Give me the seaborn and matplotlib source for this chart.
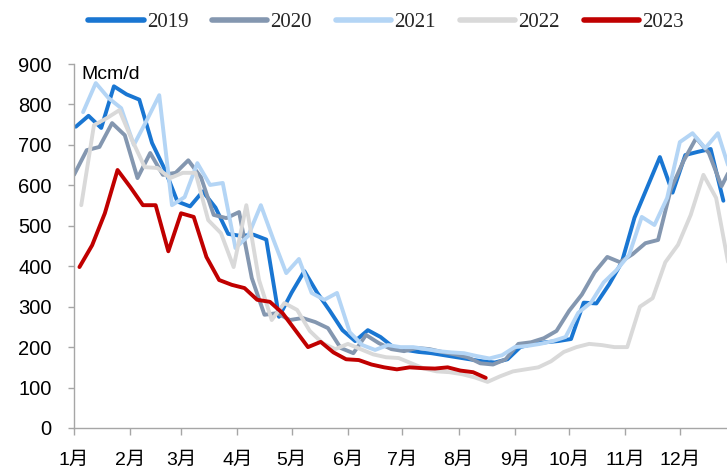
import matplotlib
matplotlib.use("Agg")
import matplotlib.pyplot as plt
from matplotlib.lines import Line2D
import numpy as np
import pandas as pd
import seaborn as sns

# Weekly consumption, Mcm/d
years = ["2019", "2020", "2021", "2022", "2023"]
first_week = ["2019-01-02", "2020-01-01", "2021-01-06", "2022-01-05", "2023-01-04"]

v2019 = [745, 772, 742, 845, 825, 812, 705, 640, 560, 548, 585, 545, 480, 475,
         478, 466, 275, 335, 388, 335, 290, 242, 215, 242, 225, 200, 193, 188,
         185, 180, 175, 170, 165, 162, 170, 200, 208, 212, 215, 220, 310, 308,
         355, 410, 520, 595, 670, 582, 675, 683, 690, 562]
v2020 = [626, 687, 695, 754, 724, 618, 680, 626, 631, 662, 620, 527, 519, 534,
         371, 280, 284, 267, 272, 262, 247, 198, 185, 230, 210, 195, 190, 198,
         195, 188, 182, 175, 160, 157, 170, 208, 212, 222, 240, 290, 330, 385,
         423, 410, 430, 457, 465, 590, 660, 717, 680, 598, 660]
v2021 = [781, 853, 816, 791, 700, 760, 823, 551, 571, 655, 601, 606, 445, 475,
         551, 465, 383, 418, 334, 317, 334, 237, 205, 193, 205, 200, 200, 195,
         190, 187, 185, 178, 172, 180, 200, 203, 208, 215, 225, 285, 310, 360,
         390, 428, 522, 502, 569, 707, 729, 692, 729, 630]
v2022 = [551, 749, 766, 786, 712, 645, 643, 618, 631, 631, 514, 482, 398, 551,
         366, 267, 309, 292, 240, 210, 195, 208, 195, 182, 175, 173, 160, 147,
         140, 138, 133, 125, 114, 128, 140, 145, 150, 165, 188, 200, 208, 205,
         200, 200, 300, 321, 410, 453, 527, 626, 569, 400]
v2023 = [398, 452, 531, 638, 596, 551, 551, 437, 531, 522, 423, 366, 354, 346,
         317, 312, 284, 242, 200, 213, 187, 170, 168, 157, 150, 145, 150, 148,
         147, 150, 142, 138, 124]

series = [v2019, v2020, v2021, v2022, v2023]
colors = ["#1976D2", "#8497B0", "#B4D5F5", "#D9D9D9", "#C00000"]

month_labels = ["1月", "2月", "3月", "4月", "5月", "6月",
                "7月", "8月", "9月", "10月", "11月", "12月"]
month_days = [0, 31, 59, 90, 120, 151, 181, 212, 243, 273, 304, 334]

# Long-form table: day of year for each weekly value
frames = []
for yr, start, vals in zip(years, first_week, series):
    dates = pd.date_range(start, periods=len(vals), freq="7D")
    day = (dates - pd.Timestamp(f"{yr}-01-01")).days.to_numpy()
    frames.append(pd.DataFrame({"day": day, "value": vals, "year": yr}))
df = pd.concat(frames, ignore_index=True)

sns.set_theme(style="white")
plt.rcParams["font.family"] = ["Liberation Sans", "Noto Sans CJK SC", "DejaVu Sans"]

fig = plt.figure(figsize=(7.27, 4.71), dpi=100)
ax = fig.add_axes([0.1018, 0.0913, 0.8982, 0.7727])

sns.lineplot(data=df, x="day", y="value", hue="year", hue_order=years,
             palette=dict(zip(years, colors)), linewidth=2.8, legend=False,
             ax=ax, estimator=None, sort=False)

ax.set_xlim(0, 360)
ax.set_ylim(0, 900)
ax.set_yticks(np.arange(0, 901, 100))
ax.set_xticks(month_days)
ax.set_xticklabels(month_labels)
ax.set_xlabel("")
ax.set_ylabel("")

for side in ["top", "right"]:
    ax.spines[side].set_visible(False)
for side in ["left", "bottom"]:
    ax.spines[side].set_color("#A6A6A6")
    ax.spines[side].set_linewidth(1.0)

ax.tick_params(axis="y", direction="out", length=4, width=1.0, color="#A6A6A6",
               pad=12, labelsize=14.5, labelcolor="black", left=True)
ax.tick_params(axis="x", direction="out", length=5, width=1.0, color="#A6A6A6",
               pad=12, labelsize=14, labelcolor="black", bottom=True)

ax.text(0.012, 0.97, "Mcm/d", transform=ax.transAxes, ha="left", va="center",
        fontsize=14, color="black")

handles = [Line2D([0], [0], color=c, lw=4) for c in colors]
fig.legend(handles, years, loc="center", bbox_to_anchor=(0.531, 0.953), ncol=5,
           frameon=False, handlelength=2.65, handletextpad=0.15,
           columnspacing=1.15, prop={"family": "Liberation Serif", "size": 15})

fig.savefig("out.png", dpi=100)
